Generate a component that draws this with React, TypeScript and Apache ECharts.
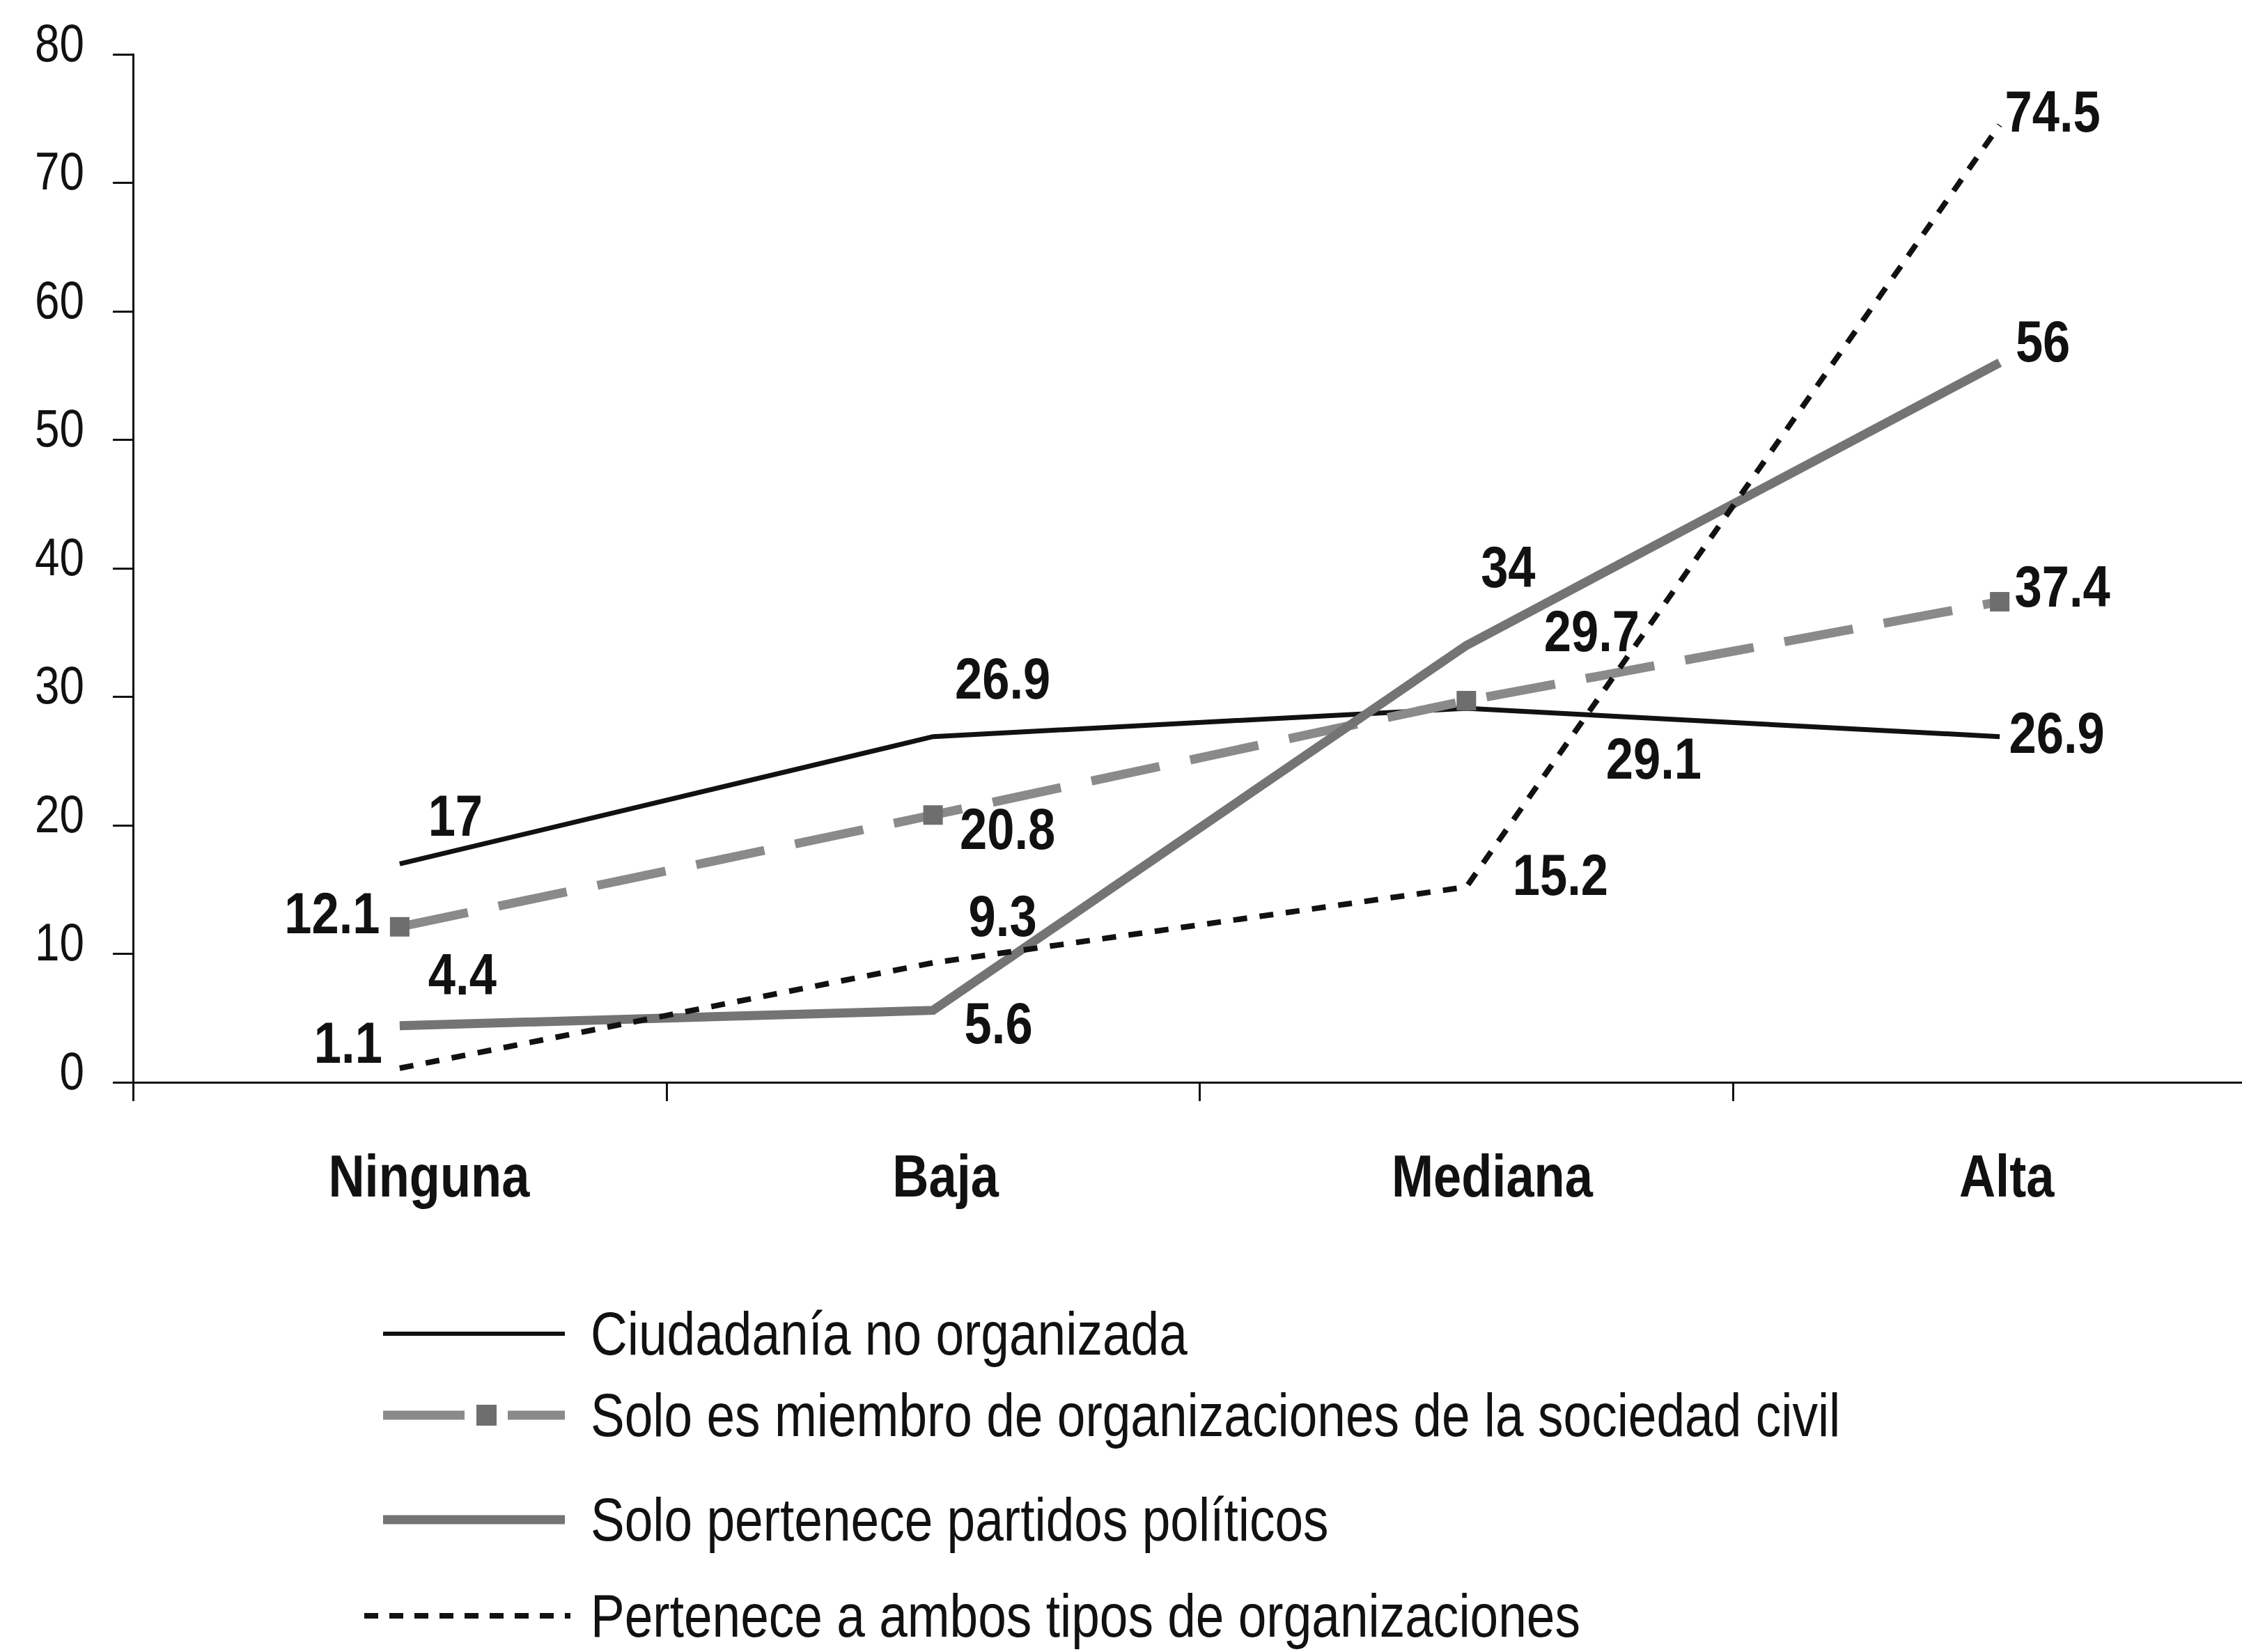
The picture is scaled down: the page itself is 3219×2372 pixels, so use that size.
import React, { useEffect, useRef } from "react";
import * as echarts from "echarts";

const categories = ["Ninguna", "Baja", "Mediana", "Alta"];
const seriesNames = [
  "Ciudadanía no organizada",
  "Solo es miembro de organizaciones de la sociedad civil",
  "Solo pertenece partidos políticos",
  "Pertenece a ambos tipos de organizaciones",
];
const noOrganizada = [17, 26.9, 29.1, 26.9];
const soloOsc = [12.1, 20.8, 29.7, 37.4];
const soloPartidos = [4.4, 5.6, 34, 56];
const ambos = [1.1, 9.3, 15.2, 74.5];
const yTickValues = [0, 10, 20, 30, 40, 50, 60, 70, 80];

// label offsets from their point, in px (layout only)
const offsetsA = [[80, -70], [100, -84], [269, 72], [82, -6]];
const offsetsB = [[-97, -20], [107, 20], [180, -100], [90, -22]];
const offsetsC = [[90, -74], [94, 18], [60, -113], [62, -31]];
const offsetsD = [[-74, -37], [100, -68], [135, -18], [76, -20]];
const categoryLabelShift = [42, 18, 37, 10];

const FONT = "'Liberation Sans', Arial, sans-serif";
const NARROW = 0.84;

const allValues = [noOrganizada, soloOsc, soloPartidos, ambos];
const allOffsets = [offsetsA, offsetsB, offsetsC, offsetsD];

function fmt(v: number) {
  return String(Math.round(v * 10) / 10);
}

function lineSeries(name: string, values: number[], color: string, width: number, type: any, symbol: string, symbolSize: number, symbolColor: string, z: number) {
  return {
    type: "line",
    name,
    z,
    data: values,
    symbol,
    symbolSize,
    showSymbol: symbol !== "none",
    itemStyle: { color: symbolColor },
    lineStyle: { color, width, type, cap: "butt", join: "miter" },
    emphasis: { disabled: true },
    silent: true,
  };
}

function textEl(x: number, y: number, text: string, size: number, bold: boolean, align: string, scale: number) {
  return {
    type: "text",
    x,
    y,
    scaleX: scale,
    silent: true,
    style: {
      text,
      fontSize: size,
      fontWeight: bold ? "bold" : "normal",
      fontFamily: FONT,
      fill: "#111",
      align,
      verticalAlign: "middle",
      textAlign: align,
      textVerticalAlign: "middle",
    },
  };
}

// legend layout
const legendLineX0 = [550, 550, 550, 523];
const legendLineX1 = 811;
const legendY = [1915, 2032, 2182, 2320];
const legendTextX = 848;

export default function App() {
  const ref = useRef<HTMLDivElement>(null);
  useEffect(() => {
    document.body.style.margin = "0";
    const chart = echarts.init(ref.current!, undefined, { renderer: "svg" });

    const labelData: number[][] = [];
    allValues.forEach((vals, s) => vals.forEach((v, i) => labelData.push([i, v, s])));

    const option: any = {
      animation: false,
      backgroundColor: "#fff",
      grid: { left: 191, width: 3063, top: 78, bottom: 818, containLabel: false, outerBoundsMode: "none" },
      xAxis: {
        type: "category",
        data: categories,
        boundaryGap: true,
        axisLine: { lineStyle: { color: "#111", width: 3 } },
        axisTick: { show: true, length: 27, lineStyle: { color: "#111", width: 3 } },
        axisLabel: { show: false },
        splitLine: { show: false },
      },
      yAxis: {
        type: "value",
        min: 0,
        max: 80,
        interval: 10,
        axisLine: { show: true, lineStyle: { color: "#111", width: 3 } },
        axisTick: { show: true, length: 29, lineStyle: { color: "#111", width: 3 } },
        axisLabel: { show: false },
        splitLine: { show: false },
      },
      graphic: [
        { type: "line", shape: { x1: legendLineX0[0], y1: legendY[0], x2: legendLineX1, y2: legendY[0] }, style: { stroke: "#111", lineWidth: 6 } },
        { type: "line", shape: { x1: legendLineX0[1], y1: legendY[1], x2: 667, y2: legendY[1] }, style: { stroke: "#8a8a8a", lineWidth: 13 } },
        { type: "rect", shape: { x: 684, y: legendY[1] - 15, width: 29, height: 30 }, style: { fill: "#6e6e6e" } },
        { type: "line", shape: { x1: 729, y1: legendY[1], x2: legendLineX1, y2: legendY[1] }, style: { stroke: "#8a8a8a", lineWidth: 13 } },
        { type: "line", shape: { x1: legendLineX0[2], y1: legendY[2], x2: legendLineX1, y2: legendY[2] }, style: { stroke: "#747474", lineWidth: 13 } },
        { type: "line", shape: { x1: legendLineX0[3], y1: legendY[3], x2: legendLineX1 + 8, y2: legendY[3] }, style: { stroke: "#111", lineWidth: 8, lineDash: [20, 16] } },
        ...seriesNames.map((n, i) => textEl(legendTextX, legendY[i], n, 88, false, "left", 0.83)),
      ],
      series: [
        lineSeries(seriesNames[0], noOrganizada, "#111", 7, "solid", "none", 0, "#111", 2),
        lineSeries(seriesNames[1], soloOsc, "#8a8a8a", 13, [100, 45], "rect", 28, "#6e6e6e", 3),
        lineSeries(seriesNames[2], soloPartidos, "#747474", 13, "solid", "none", 0, "#747474", 4),
        lineSeries(seriesNames[3], ambos, "#111", 8, [20, 18], "none", 0, "#111", 5),
        {
          type: "custom",
          name: "etiquetas",
          z: 10,
          silent: true,
          clip: false,
          data: labelData,
          renderItem: (params: any, api: any) => {
            const i = api.value(0);
            const v = api.value(1);
            const s = api.value(2);
            const p = api.coord([i, v]);
            const off = allOffsets[s][i];
            return textEl(p[0] + off[0], p[1] + off[1], fmt(v), 84, true, "center", NARROW);
          },
        },
        {
          type: "custom",
          name: "ejeY",
          z: 10,
          silent: true,
          clip: false,
          data: yTickValues.map((v) => [0, v]),
          renderItem: (params: any, api: any) => {
            const v = api.value(1);
            const p = api.coord([0, v]);
            return textEl(params.coordSys.x - 70, p[1] - 17, String(v), 76, false, "right", NARROW);
          },
        },
        {
          type: "custom",
          name: "ejeX",
          z: 10,
          silent: true,
          clip: false,
          data: categories.map((c, i) => [i, 0]),
          renderItem: (params: any, api: any) => {
            const i = api.value(0);
            const p = api.coord([i, 0]);
            return textEl(p[0] + categoryLabelShift[i], params.coordSys.y + params.coordSys.height + 134, categories[i], 86, true, "center", NARROW);
          },
        },
      ],
    };
    chart.setOption(option);
    return () => chart.dispose();
  }, []);
  return <div ref={ref} style={{ width: 3219, height: 2372 }} />;
}
